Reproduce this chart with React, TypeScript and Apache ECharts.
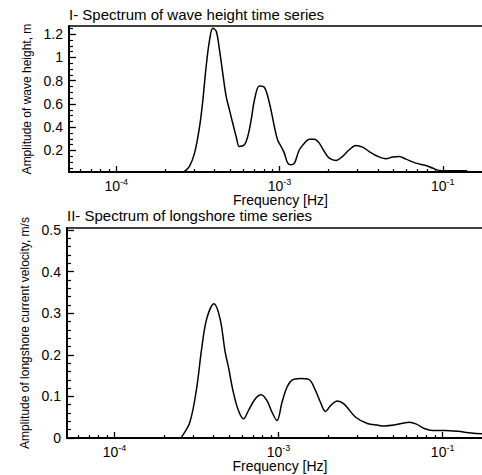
import React, { useEffect, useRef } from "react";
import * as echarts from "echarts";

const FONT = "'Liberation Sans', Arial, Helvetica, sans-serif";

// x values are log10(frequency [Hz])
const waveLogFreq = [-4.29, -3.6, -3.582, -3.552, -3.521, -3.49, -3.47, -3.45, -3.429, -3.409, -3.388, -3.368, -3.348, -3.327, -3.307, -3.287, -3.266, -3.246, -3.215, -3.195, -3.174, -3.154, -3.124, -3.093, -3.062, -3.032, -3.012, -2.991, -2.971, -2.95, -2.93, -2.909, -2.879, -2.848, -2.818, -2.787, -2.757, -2.726, -2.695, -2.654, -2.614, -2.573, -2.532, -2.492, -2.451, -2.41, -2.349, -2.308, -2.267, -2.226, -2.165, -2.104, -2.064, -2.023, -1.982, -1.85];
const waveAmp = [0, 0, 0.02, 0.063, 0.177, 0.406, 0.634, 0.92, 1.149, 1.25, 1.225, 1.063, 0.863, 0.663, 0.549, 0.434, 0.32, 0.234, 0.249, 0.32, 0.463, 0.634, 0.754, 0.743, 0.606, 0.406, 0.291, 0.234, 0.177, 0.091, 0.077, 0.091, 0.206, 0.263, 0.297, 0.297, 0.263, 0.191, 0.134, 0.114, 0.149, 0.206, 0.243, 0.229, 0.191, 0.157, 0.129, 0.143, 0.149, 0.126, 0.091, 0.071, 0.049, 0.029, 0.026, 0.026];

const longLogFreq = [-4.29, -3.6, -3.592, -3.541, -3.5, -3.469, -3.438, -3.394, -3.357, -3.326, -3.306, -3.276, -3.245, -3.214, -3.184, -3.143, -3.106, -3.071, -3.04, -3.01, -2.979, -2.949, -2.918, -2.867, -2.816, -2.775, -2.745, -2.714, -2.683, -2.642, -2.602, -2.53, -2.459, -2.398, -2.357, -2.296, -2.204, -2.163, -2.112, -2.061, -1.989, -1.908, -1.826, -1.753];
const longAmp = [0, 0, 0.002, 0.038, 0.119, 0.215, 0.287, 0.323, 0.287, 0.207, 0.171, 0.11, 0.066, 0.046, 0.066, 0.094, 0.104, 0.09, 0.062, 0.042, 0.086, 0.122, 0.139, 0.143, 0.141, 0.114, 0.086, 0.064, 0.078, 0.089, 0.082, 0.05, 0.035, 0.031, 0.029, 0.031, 0.038, 0.034, 0.023, 0.018, 0.018, 0.016, 0.012, 0.01];

const xMajorTicks = [-4, -3, -2];
const xMajorExponents = ["-4", "-3", "-1"]; // as printed on the original
const waveYTicks = [0.2, 0.4, 0.6, 0.8, 1, 1.2];
const longYTicks = [0, 0.1, 0.2, 0.3, 0.4, 0.5];

const titles = ["I- Spectrum of wave height time series", "II- Spectrum of longshore time series"];
const yNames = ["Amplitude of wave height, m", "Amplitude of longshore current velocity, m/s"];
const xName = "Frequency [Hz]";

const X_MIN = -4.29;
const X_MAX = -1.76;

const xMinor: number[] = [];
for (let d = -5; d <= -2; d++) {
  for (let k = 2; k <= 9; k++) {
    const v = d + Math.log10(k);
    if (v > X_MIN && v < X_MAX) xMinor.push(v);
  }
}
const waveYMinor: number[] = [];
for (let i = 1; i <= 25; i++) if (i % 4 !== 0) waveYMinor.push(i * 0.05);
const longYMinor: number[] = [];
for (let i = 1; i <= 25; i++) if (i % 5 !== 0) longYMinor.push(i * 0.02);

const black = "#000";

function xAxesFor(gridIndex: number, namePadLeft: number) {
  return [
    {
      type: "value",
      gridIndex,
      min: X_MIN,
      max: X_MAX,
      position: "bottom",
      axisLine: { show: true, onZero: false, lineStyle: { color: black, width: 2 } },
      axisTick: { show: true, inside: true, length: 6, customValues: xMajorTicks, lineStyle: { color: black, width: 1.3 } },
      axisLabel: {
        customValues: xMajorTicks,
        margin: 5,
        formatter: (v: number) => {
          const i = xMajorTicks.findIndex((t) => Math.abs(t - v) < 1e-6);
          return `{b|10}{s|${i >= 0 ? xMajorExponents[i] : ""}}`;
        },
        rich: {
          b: { fontSize: 14, fontFamily: FONT, color: black },
          s: { fontSize: 9, fontFamily: FONT, color: black, padding: [0, 0, 8, 0] },
        },
      },
      splitLine: { show: false },
      name: xName,
      nameLocation: "middle",
      nameGap: 18,
      nameTextStyle: { fontSize: 14, fontFamily: FONT, color: black, padding: [0, 0, 0, namePadLeft] },
    },
    {
      type: "value",
      gridIndex,
      min: X_MIN,
      max: X_MAX,
      position: "bottom",
      axisLine: { show: false, onZero: false },
      axisTick: { show: true, inside: true, length: 3, customValues: xMinor, lineStyle: { color: black, width: 1.2 } },
      axisLabel: { show: false },
      splitLine: { show: false },
    },
    {
      type: "value",
      gridIndex,
      min: X_MIN,
      max: X_MAX,
      position: "top",
      axisLine: { show: true, onZero: false, lineStyle: { color: black, width: 1.5 } },
      axisTick: { show: false },
      axisLabel: { show: false },
      splitLine: { show: false },
    },
  ];
}

function yAxesFor(gridIndex: number, min: number, max: number, major: number[], minor: number[], name: string) {
  return [
    {
      type: "value",
      gridIndex,
      min,
      max,
      position: "left",
      axisLine: { show: true, onZero: false, lineStyle: { color: black, width: 2 } },
      axisTick: { show: true, inside: true, length: 7, customValues: major, lineStyle: { color: black, width: 1.3 } },
      axisLabel: {
        customValues: major,
        margin: 6,
        fontSize: 14,
        fontFamily: FONT,
        color: black,
        formatter: (v: number) => String(Math.round(v * 100) / 100),
      },
      splitLine: { show: false },
      name,
      nameLocation: "middle",
      nameRotate: 90,
      nameGap: 35,
      nameTextStyle: { fontSize: 12, fontFamily: FONT, color: black },
    },
    {
      type: "value",
      gridIndex,
      min,
      max,
      position: "left",
      axisLine: { show: false, onZero: false },
      axisTick: { show: true, inside: true, length: 4, customValues: minor, lineStyle: { color: black, width: 1.2 } },
      axisLabel: { show: false },
      splitLine: { show: false },
    },
  ];
}

export default function App() {
  const ref = useRef<HTMLDivElement>(null);
  useEffect(() => {
    document.body.style.margin = "0";
    if (!ref.current) return;
    const chart = echarts.init(ref.current, undefined, { renderer: "svg" });
    const option: any = {
      animation: false,
      backgroundColor: "#fff",
      title: [
        { text: titles[0], left: 69, top: 7, padding: 0, textStyle: { fontSize: 15, fontWeight: "normal", fontFamily: FONT, color: black } },
        { text: titles[1], left: 67, top: 208, padding: 0, textStyle: { fontSize: 15, fontWeight: "normal", fontFamily: FONT, color: black } },
      ],
      grid: [
        { left: 69, top: 26, width: 413, height: 146, outerBoundsMode: "none", containLabel: false },
        { left: 67, top: 228, width: 415, height: 210, outerBoundsMode: "none", containLabel: false },
      ],
      xAxis: [...xAxesFor(0, 10), ...xAxesFor(1, 11)],
      yAxis: [
        ...yAxesFor(0, 0.015, 1.27, waveYTicks, waveYMinor, yNames[0]),
        ...yAxesFor(1, 0, 0.505, longYTicks, longYMinor, yNames[1]),
      ],
      series: [
        {
          type: "line",
          xAxisIndex: 0,
          yAxisIndex: 0,
          data: waveLogFreq.map((x, i) => [x, waveAmp[i]]),
          showSymbol: false,
          smooth: 0.35,
          clip: true,
          lineStyle: { color: black, width: 1.5 },
        },
        {
          type: "line",
          xAxisIndex: 3,
          yAxisIndex: 2,
          data: longLogFreq.map((x, i) => [x, longAmp[i]]),
          showSymbol: false,
          smooth: 0.35,
          clip: true,
          lineStyle: { color: black, width: 1.5 },
        },
      ],
    };
    chart.setOption(option);
    return () => chart.dispose();
  }, []);
  return <div ref={ref} style={{ width: 482, height: 475 }} />;
}
